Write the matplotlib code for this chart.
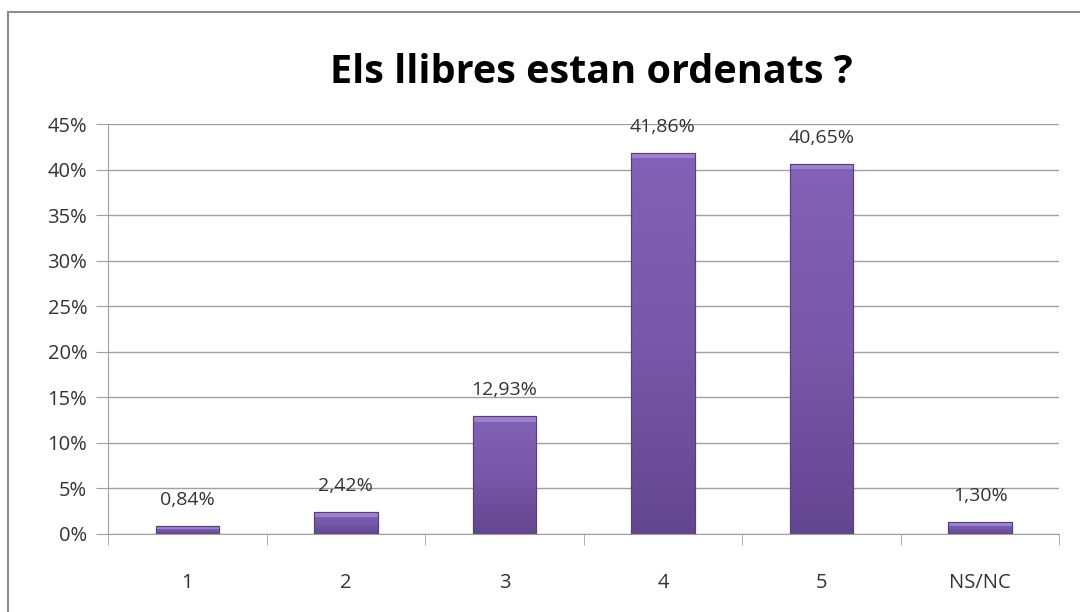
import numpy as np
import matplotlib.pyplot as plt
from matplotlib.patches import Rectangle

categories = ["1", "2", "3", "4", "5", "NS/NC"]
values = [0.84, 2.42, 12.93, 41.86, 40.65, 1.30]
value_labels = ["0,84%", "2,42%", "12,93%", "41,86%", "40,65%", "1,30%"]
yticks = [0, 5, 10, 15, 20, 25, 30, 35, 40, 45]

plt.rcParams['font.family'] = ['Open Sans', 'DejaVu Sans']

fig = plt.figure(figsize=(10.8, 6.12), dpi=100)
ax = fig.add_axes([0.1, 0.1275, 0.881, 0.6695])

# outer frame of the chart
fig.patches.append(Rectangle((0.0075, -0.05), 1.1, 1.03, transform=fig.transFigure,
                             fill=False, edgecolor="#8c8c8c", linewidth=1.5))

x = np.arange(len(categories))
width = 0.4

# vertical gradient for the bars (lighter at top, darker at bottom)
grad = np.linspace(0, 1, 256).reshape(-1, 1)
cmap = plt.matplotlib.colors.LinearSegmentedColormap.from_list(
    "purp", ["#634690", "#7858a8", "#8262b6"])

for xi, v, lab in zip(x, values, value_labels):
    bar = ax.bar(xi, v, width, color="#7a5aaa", edgecolor="#5a4180",
                 linewidth=0.8, zorder=3)[0]
    im = ax.imshow(grad, extent=(xi - width / 2, xi + width / 2, 0, v),
                   origin="lower", cmap=cmap, aspect="auto", zorder=3)
    im.set_clip_path(bar)
    # lighter top bevel
    cap = min(0.6, v * 0.35)
    ax.add_patch(Rectangle((xi - width / 2, v - cap), width, cap,
                           facecolor="#9d7fd4", edgecolor="none", zorder=4))
    ax.add_patch(Rectangle((xi - width / 2, 0), width, v, fill=False,
                           edgecolor="#54407a", linewidth=0.8, zorder=5))
    ax.text(xi, v + 1.9, lab, ha="center", va="bottom", fontsize=14,
            color="#333333", zorder=6)

ax.set_xlim(-0.5, len(categories) - 0.5)
ax.set_ylim(0, 45)
ax.set_yticks(yticks)
ax.set_yticklabels([f"{t}%" for t in yticks])
ax.set_xticks(x)
ax.set_xticklabels(categories)
ax.set_xticks(np.arange(-0.5, len(categories), 1), minor=True)

ax.yaxis.grid(True, color="#a0a0a0", linewidth=1, zorder=0)
ax.tick_params(axis="y", length=9, color="#a0a0a0", labelsize=14.5,
               labelcolor="#333333", pad=6)
ax.tick_params(axis="x", which="major", length=0, labelsize=14.5,
               labelcolor="#333333", pad=28)
ax.tick_params(axis="x", which="minor", length=8, color="#a0a0a0")

for s in ["top", "right"]:
    ax.spines[s].set_visible(False)
for s in ["left", "bottom"]:
    ax.spines[s].set_color("#a0a0a0")

fig.text(0.548, 0.882, "Els llibres estan ordenats ?", ha="center", va="center",
         fontsize=28.5, fontweight="bold", color="black")

fig.savefig("out.png", dpi=100)
